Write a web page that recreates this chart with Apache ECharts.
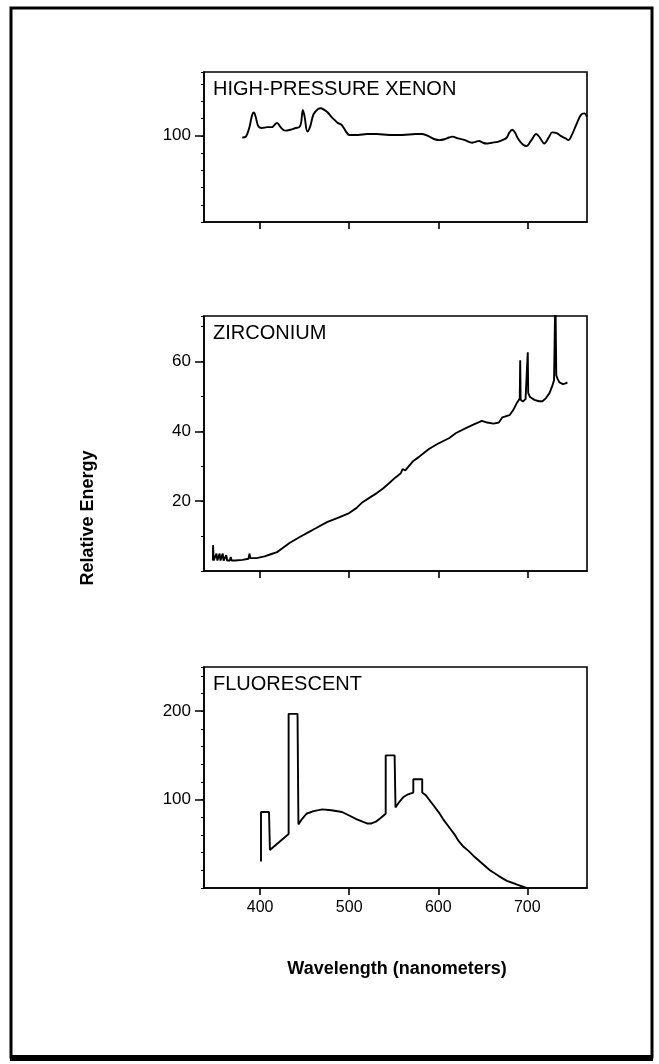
<!DOCTYPE html>
<html>
<head>
<meta charset="utf-8">
<script src="https://cdn.jsdelivr.net/npm/echarts@6/dist/echarts.min.js"></script>
<style>
  html, body { margin: 0; padding: 0; background: #fff; }
  #chart { width: 659px; height: 1064px; }
</style>
</head>
<body>
<div id="chart"></div>
<script>
// wavelength ticks shared by all three panels
const wlTicks = [400, 500, 600, 700];

// high-pressure xenon
const xenonWl = [380, 384, 388, 391, 393, 395, 398, 402, 408, 413, 419, 423, 428, 434, 440, 444, 446, 448, 450, 453,
  456, 460, 465, 468, 472, 476, 480, 484, 487, 491, 494, 497, 500, 510, 520, 531, 545, 560, 575, 582,
  590, 596, 601, 607, 612, 616, 622, 630, 638, 642, 646, 650, 654, 660, 667, 672, 677, 680, 683, 686,
  690, 695, 699, 704, 710, 714, 719, 724, 728, 733, 739, 743, 746, 750, 755, 760, 764, 767];
const xenonVal = [98, 99, 110, 124, 127, 122, 111, 109, 110, 110, 115, 110, 106, 107, 109, 110, 115, 130, 122, 105,
  110, 125, 131, 132, 130, 127, 122, 118, 115, 113, 109, 104, 101, 101, 102, 102, 101, 101, 102, 102,
  99, 96, 95, 96, 98, 99, 97, 95, 92, 93, 94, 92, 91, 92, 93, 95, 98, 104, 107, 104,
  96, 90, 88, 94, 102, 98, 91, 98, 104, 103, 99, 97, 95, 101, 113, 124, 126, 122];
const xenonLabels = [100];

// zirconium
const zircWl = [347, 347.2, 347.8, 350, 351, 352, 353.5, 354.5, 355.5, 357, 358, 359, 361, 362, 363, 366, 367, 368,
  372, 380, 387, 388, 389, 396, 405, 412, 419, 425, 433, 445, 455, 463, 475, 488, 500, 508, 515, 523,
  531, 538, 545, 552, 558, 560, 563, 567, 572, 574, 578, 582, 590, 600, 612, 620, 631, 640, 649, 655,
  662, 668, 672, 674, 680, 684, 688, 691.5, 692, 692.5, 695, 698, 700.5, 701, 703, 708, 713, 717, 721,
  725, 728, 730, 731.5, 732.5, 734, 736, 740, 743, 745];
const zircVal = [3, 7.4, 3, 3, 5, 3, 3, 5, 3, 3, 5, 3, 3, 4.5, 3, 3, 4, 3,
  3, 3.2, 3.5, 5, 3.7, 3.7, 4.2, 4.8, 5.4, 6.5, 8, 9.8, 11.2, 12.3, 14, 15.3, 16.6, 18, 19.7, 21,
  22.3, 23.6, 25.2, 26.8, 28, 29.2, 28.8, 30, 31.5, 31.3, 32.6, 33.4, 35, 36.5, 38, 39.5, 40.9, 42, 43, 42.5,
  42.2, 42.5, 44, 43.8, 44.6, 46, 48, 49.4, 60.3, 49, 48.5, 49.2, 62.6, 51, 49.8, 49, 48.6, 48.6, 49.5,
  51, 53, 54.6, 80, 56, 55, 54, 53.5, 53.7, 54];
const zircLabels = [20, 40, 60];

// fluorescent
const fluorWl = [401, 401, 410, 411, 432, 432, 442, 443, 447, 452, 460, 470, 480, 492, 500, 508, 515, 520, 525, 530,
  535, 541, 541, 551, 552, 556, 561, 566, 572, 572, 582, 582, 586, 589, 595, 601, 606, 612, 618, 623,
  628, 634, 641, 649, 658, 668, 677, 687, 699];
const fluorVal = [30, 86, 86, 43, 61, 197, 197, 72, 78, 84, 87, 89, 88, 86, 82, 78, 75, 73, 73, 75,
  79, 84, 150, 150, 91, 97, 103, 106, 108, 123, 123, 108, 105, 101, 93, 85, 77, 69, 61, 53,
  47, 42, 35, 28, 20, 13.5, 8, 4.5, 0];
const fluorLabels = [100, 200];

const FONT = '"Liberation Sans", Arial, Helvetica, sans-serif';
const zip = (xs, ys) => xs.map((x, i) => [x, ys[i]]);

const panels = [
  { name: 'HIGH-PRESSURE XENON', top: 72, height: 150, max: 174, step: 20, labels: xenonLabels, data: zip(xenonWl, xenonVal), smooth: 0.35 },
  { name: 'ZIRCONIUM', top: 316, height: 255, max: 73, step: 10, labels: zircLabels, data: zip(zircWl, zircVal), smooth: false },
  { name: 'FLUORESCENT', top: 667, height: 221, max: 250, step: 20, labels: fluorLabels, data: zip(fluorWl, fluorVal), smooth: false }
];

const grid = [], xAxis = [], yAxis = [], series = [], titles = [];

panels.forEach((p, i) => {
  grid.push({
    left: 204, top: p.top, width: 383, height: p.height,
    show: true, borderColor: '#000', borderWidth: 1.6, backgroundColor: 'transparent'
  });
  xAxis.push({
    type: 'value', gridIndex: i, min: 337, max: 767, position: 'bottom',
    axisLine: { show: true, lineStyle: { color: '#000', width: 1.6 } },
    axisTick: { show: true, length: 7, customValues: wlTicks, lineStyle: { color: '#000', width: 1.6 } },
    axisLabel: {
      show: i === 2, customValues: wlTicks, margin: 12,
      color: '#000', fontSize: 16, fontFamily: FONT
    },
    splitLine: { show: false }
  });
  // minor ticks
  yAxis.push({
    type: 'value', gridIndex: i, min: 0, max: p.max, interval: p.step, position: 'left',
    axisLine: { show: true, lineStyle: { color: '#000', width: 1.6 } },
    axisTick: { show: true, length: 3, lineStyle: { color: '#000', width: 1 } },
    axisLabel: { show: false },
    splitLine: { show: false }
  });
  // labelled ticks
  yAxis.push({
    type: 'value', gridIndex: i, min: 0, max: p.max, position: 'left', offset: 0,
    axisLine: { show: false },
    axisTick: { show: true, length: 9, customValues: p.labels, lineStyle: { color: '#000', width: 1.5 } },
    axisLabel: {
      show: true, customValues: p.labels, margin: 13,
      color: '#000', fontSize: 17, fontFamily: FONT
    },
    splitLine: { show: false }
  });
  series.push({
    type: 'line', xAxisIndex: i, yAxisIndex: i * 2,
    data: p.data, smooth: p.smooth, showSymbol: false, symbol: 'none',
    clip: true, animation: false,
    lineStyle: { color: '#000', width: 1.9 }
  });
  titles.push({
    type: 'text', left: 213, top: p.top + 7,
    style: { text: p.name, fill: '#000', font: '20px ' + FONT }
  });
});

const chart = echarts.init(document.getElementById('chart'), null, { renderer: 'canvas' });
chart.setOption({
  backgroundColor: '#fff',
  animation: false,
  grid, xAxis, yAxis, series,
  graphic: [
    // outer frame
    { type: 'rect', shape: { x: 11, y: 8, width: 641, height: 1049 }, style: { fill: 'none', stroke: '#000', lineWidth: 3 } },
    { type: 'rect', shape: { x: 10, y: 1055, width: 643, height: 6 }, style: { fill: '#000' } },
    ...titles,
    {
      type: 'text', x: 88, y: 518, rotation: Math.PI / 2,
      style: { text: 'Relative Energy', fill: '#000', font: 'bold 18px ' + FONT, align: 'center', verticalAlign: 'middle' }
    },
    {
      type: 'text', x: 397, y: 969,
      style: { text: 'Wavelength (nanometers)', fill: '#000', font: 'bold 18px ' + FONT, align: 'center', verticalAlign: 'middle' }
    }
  ]
});
</script>
</body>
</html>
